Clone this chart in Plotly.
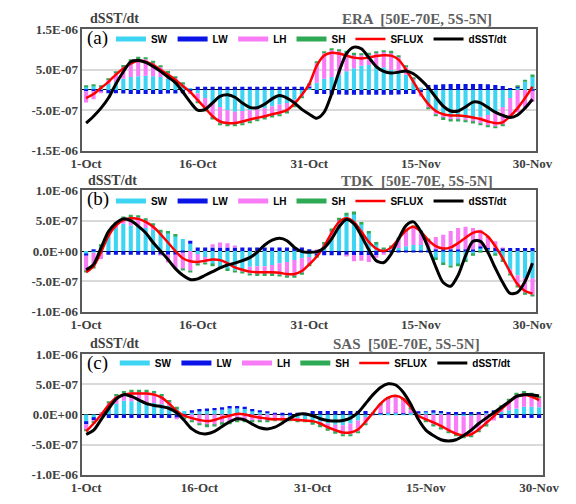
import plotly.graph_objects as go
import pandas as pd

# ---------------- categories ----------------
dates = [f"{d.day}-{d.strftime('%b')}" for d in pd.date_range("2000-10-01", "2000-11-30")]
tick_dates = ["1-Oct", "16-Oct", "31-Oct", "15-Nov", "30-Nov"]

# values in units of 1e-7
# ---------------- ERA ----------------
era_sw = [0.8, 1.0, 0.8, 1.5, 2.0, 2.8, 3.2, 3.4, 3.5, 3.4, 3.2, 2.8, 2.2, 1.4, 0.5,
          -0.8, -2.0, -3.2, -4.2, -5.0, -5.4, -5.2, -5.0, -4.8, -4.5, -4.0, -3.6, -3.2, -2.4, -1.2,
          0.5, 1.8, 2.8, 3.2, 3.8, 4.6, 5.4, 6.0, 6.2, 6.0, 5.6, 5.0, 4.4, 3.8, 2.4,
          0.6, -3.5, -5.0, -6.0, -6.5, -6.8, -7.0, -7.0, -6.6, -6.2, -5.4, -4.2, -2.0, 0.5, 2.0, 3.2]
era_lw = [-0.3, -0.3, -0.5, -0.8, -0.8, -0.9, -1.0, -1.0, -1.0, -1.0, -1.0, -0.9, -0.9, -0.8, -0.4,
          0.8, 0.8, 0.8, 0.8, 0.8, 0.8, 0.8, 0.8, 0.8, 0.8, 0.8, 0.8, 0.8, 0.8, 0.8,
          0.3, -1.0, -1.0, -1.1, -1.1, -1.2, -1.2, -1.2, -1.2, -1.2, -1.2, -1.2, -1.1, -1.0, -1.0,
          -0.5, 1.2, 1.3, 1.4, 1.5, 1.5, 1.5, 1.5, 1.5, 1.4, 1.2, 1.0, 0.5, 0.2, 0.0, -0.2]
era_lh = [-2.8, -2.0, -0.1, 0.9, 2.2, 3.0, 3.9, 4.4, 4.1, 3.4, 2.4, 1.5, 0.8, 0.1, -0.6,
          -2.2, -3.0, -3.8, -4.1, -3.7, -3.3, -3.1, -2.8, -2.6, -2.5, -2.5, -2.5, -2.3, -1.5, -0.5,
          0.5, 4.8, 6.3, 6.7, 5.9, 4.7, 3.4, 2.6, 2.6, 3.2, 3.8, 4.3, 3.8, 1.8, 0.3,
          -1.1, -0.9, -1.1, -1.0, -0.9, -0.6, -0.6, -0.9, -1.7, -2.6, -3.6, -4.4, -4.7, -5.5, -4.5, -2.8]
era_sh = [0.3, 0.3, 0.3, 0.4, 0.4, 0.4, 0.4, 0.4, 0.4, 0.4, 0.4, 0.4, 0.4, 0.3, 0.0,
          -0.3, -0.3, -0.3, -0.3, -0.3, -0.3, -0.3, -0.3, -0.3, -0.3, -0.3, -0.3, -0.3, -0.3, -0.3,
          0.2, 0.4, 0.4, 0.4, 0.4, 0.4, 0.4, 0.4, 0.4, 0.4, 0.4, 0.4, 0.4, 0.4, 0.3,
          0.0, -0.3, -0.4, -0.4, -0.4, -0.4, -0.4, -0.4, -0.4, -0.4, -0.4, -0.4, -0.3, 0.3, 0.5, 0.6]
era_sflux = [-2.0, -1.0, 0.5, 2.0, 3.8, 5.3, 6.5, 7.2, 7.0, 6.2, 5.0, 3.8, 2.5, 1.0, -0.5,
             -2.5, -4.5, -6.5, -7.8, -8.2, -8.2, -7.8, -7.3, -6.9, -6.5, -6.0, -5.6, -5.0, -3.4, -1.2,
             1.5, 6.0, 8.5, 9.2, 9.0, 8.5, 8.0, 7.8, 8.0, 8.4, 8.6, 8.5, 7.5, 5.0, 2.0,
             -1.0, -3.5, -5.2, -6.0, -6.3, -6.3, -6.5, -6.8, -7.2, -7.8, -8.2, -8.0, -6.5, -4.5, -2.0, 0.8]
era_dsst = [-8.2, -6.5, -4.5, -2.0, 1.5, 4.5, 7.0, 7.3, 6.8, 5.8, 4.6, 3.2, 1.8, -0.5, -3.0,
            -5.0, -4.8, -3.2, -1.6, -1.2, -1.8, -3.2, -4.3, -4.4, -3.5, -2.2, -1.4, -2.0, -3.2, -4.8,
            -6.0, -7.0, -5.5, -1.0, 4.5, 9.0, 10.6, 10.2, 8.0, 5.8, 4.6, 4.2, 4.4, 4.7, 4.0,
            2.5, 0.6, -1.8, -4.0, -5.2, -5.2, -4.2, -3.0, -3.2, -4.3, -5.5, -6.3, -6.8, -6.2, -4.5, -2.3]

# ---------------- TDK ----------------
tdk_sw = [-0.5, -0.3, 0.8, 2.5, 3.8, 4.5, 4.2, 4.2, 3.8, 3.5, 3.2, 3.0, 2.5, 2.0, 1.2,
          -0.5, -1.0, -2.2, -2.6, -3.0, -3.2, -3.0, -2.6, -2.5, -2.5, -2.3, -2.0, -1.8, -1.5, -1.2,
          -1.0, -0.5, 1.0, 2.5, 4.5, 6.0, 6.2, 4.5, 3.0, 1.2, 0.4, 0.3, 0.5, 0.8, 1.0,
          1.0, 0.5, -1.2, -2.0, -2.4, -2.2, -1.5, -0.5, 0.5, 0.3, -0.5, -1.5, -3.0, -4.0, -4.5, -4.5]
tdk_lw = [-0.3, 0.3, -0.3, -0.6, -0.6, -0.6, -0.6, -0.6, -0.6, -0.6, -0.6, -0.6, -0.6, -0.3, 0.5,
          0.6, 0.6, 0.6, 0.6, 0.6, 0.6, 0.6, 0.6, 0.6, 0.6, 0.6, 0.6, 0.6, 0.6, 0.6,
          0.3, -0.3, -0.7, -0.7, -0.7, -0.7, -0.7, -0.7, -0.7, -0.7, -0.3, -0.2, -0.2, -0.2, -0.2,
          -0.2, -0.2, 0.3, 0.3, 0.3, 0.3, 0.3, 0.3, 0.3, 0.2, 0.5, 0.5, 0.5, 0.5, 0.5, 0.5]
tdk_lh = [-2.5, -2.3, -1.0, 0.3, 0.7, 0.9, 1.5, 1.4, 1.3, 0.8, -0.1, -1.3, -2.2, -2.7, -3.2,
          -1.6, -0.9, 0.5, 0.8, 0.7, 0.2, -0.4, -1.1, -1.3, -1.3, -1.5, -1.9, -2.3, -2.6, -2.4,
          -1.2, 0.2, 0.2, 0.9, 0.7, -0.2, -1.0, -0.9, -1.1, -0.4, -0.3, 0.3, 1.5, 2.6, 3.0,
          2.2, 1.3, 2.0, 2.4, 3.0, 3.5, 3.7, 3.5, 2.7, 1.8, 1.1, 0.1, -0.7, -1.7, -2.4, -2.7]
tdk_sh = [-0.2, -0.2, 0.3, 0.3, 0.3, 0.3, 0.3, 0.3, 0.3, 0.3, 0.3, 0.3, 0.3, -0.2, -0.2,
          -0.3, -0.3, -0.3, -0.3, -0.3, -0.3, -0.3, -0.3, -0.3, -0.3, -0.3, -0.3, -0.3, -0.3, -0.3,
          -0.3, -0.3, 0.3, 0.3, 0.3, 0.3, 0.3, 0.3, 0.3, 0.3, 0.2, 0.2, 0.2, 0.2, 0.2,
          0.2, 0.2, -0.3, -0.3, -0.3, -0.3, -0.3, -0.3, -0.3, 0.1, -0.3, -0.3, -0.3, -0.3, -0.3, -0.3]
tdk_sflux = [-3.5, -2.5, -0.2, 2.5, 4.2, 5.1, 5.4, 5.3, 4.8, 4.0, 2.8, 1.4, 0.0, -1.2, -1.7,
             -1.8, -1.6, -1.4, -1.5, -2.0, -2.7, -3.1, -3.4, -3.5, -3.5, -3.5, -3.6, -3.8, -3.8, -3.3,
             -2.2, -0.9, 0.8, 3.0, 4.8, 5.4, 4.8, 3.2, 1.5, 0.4, 0.0, 0.6, 2.0, 3.4, 4.0,
             3.2, 1.8, 0.8, 0.4, 0.6, 1.3, 2.2, 3.0, 3.2, 2.4, 0.8, -1.2, -3.5, -5.5, -6.6, -7.0]
tdk_dsst = [-3.1, -2.2, 0.5, 3.2, 4.6, 5.3, 5.0, 4.1, 3.0, 1.4, 0.0, -1.4, -2.9, -4.0, -4.7,
            -4.6, -4.0, -3.4, -2.8, -2.3, -2.0, -1.6, -1.1, -0.2, 1.0, 1.8, 2.1, 1.7, 0.6, -0.1,
            -0.2, -0.1, 0.5, 2.0, 4.0, 5.2, 4.5, 2.5, 0.2, -1.6, -1.9, -0.5, 2.0, 4.2, 4.8,
            3.2, 0.5, -2.6, -5.2, -5.8, -4.0, -0.8, 1.6, 1.6, -0.2, -2.8, -5.2, -7.0, -6.8, -5.0, -2.0]

# ---------------- SAS ----------------
sas_sw = [-1.3, -0.6, 0.2, 1.0, 1.8, 2.3, 2.2, 2.1, 2.0, 1.9, 1.7, 1.4, 1.0, 0.6, 0.3,
          0.5, 0.6, 0.7, 0.8, 1.0, 1.0, 0.9, 0.6, 0.4, 0.2, 0.0, -0.2, -0.4, -0.6, -0.8,
          -1.0, -1.2, -1.5, -1.7, -1.8, -1.5, -1.0, -0.4, 0.0, 0.1, 0.2, 0.2, 0.1, 0.2, 0.3,
          0.4, 0.3, 0.2, 0.0, -0.2, -0.3, -0.2, 0.0, 0.2, 0.3, 0.4, 0.7, 1.0, 1.3, 1.3, 1.2]
sas_lw = [-0.3, -0.3, -0.3, -0.6, -0.6, -0.6, -0.6, -0.6, -0.6, -0.6, -0.6, -0.6, -0.6, -0.2, 0.4,
          0.4, 0.4, 0.4, 0.4, 0.4, 0.4, 0.4, 0.3, 0.3, 0.3, 0.3, 0.3, 0.3, 0.3, 0.3,
          0.6, 0.6, 0.6, 0.6, 0.6, 0.6, 0.6, 0.6, 0.1, 0.1, 0.1, 0.1, 0.1, 0.1, 0.1,
          0.1, 0.4, 0.4, 0.4, 0.4, 0.4, 0.4, 0.4, 0.4, 0.4, -0.6, -0.6, -0.6, -0.6, -0.6, -0.6]
sas_lh = [-1.0, -0.4, 0.1, 0.9, 1.3, 1.3, 1.6, 1.7, 1.8, 1.7, 1.4, 0.7, -0.1, -0.3, -1.0,
          -1.5, -1.8, -1.7, -1.4, -1.3, -1.0, -1.0, -1.1, -1.1, -1.1, -1.0, -0.8, -0.6, -0.5, -0.4,
          -0.4, -0.6, -0.9, -1.2, -1.5, -1.8, -1.8, -1.1, 0.0, 1.4, 2.3, 2.6, 2.2, 0.7, -0.6,
          -1.1, -1.8, -2.3, -2.8, -3.2, -3.4, -3.3, -2.7, -1.8, -1.0, 0.8, 1.6, 2.3, 2.3, 2.0, 1.5]
sas_sh = [-0.2, -0.2, 0.0, 0.3, 0.3, 0.3, 0.3, 0.3, 0.3, 0.3, 0.3, 0.3, 0.3, -0.3, -0.3,
          -0.3, -0.3, -0.3, -0.3, -0.3, -0.3, -0.3, -0.1, -0.1, -0.1, -0.1, -0.1, -0.1, -0.1, -0.1,
          -0.3, -0.3, -0.3, -0.3, -0.3, -0.3, -0.3, -0.3, 0.2, 0.2, 0.2, 0.2, 0.2, 0.2, 0.0,
          -0.2, -0.2, -0.2, -0.2, -0.2, -0.2, -0.2, -0.2, -0.2, 0.0, 0.3, 0.3, 0.3, 0.3, 0.3, 0.3]
sas_sflux = [-2.8, -1.5, 0.0, 1.6, 2.8, 3.3, 3.5, 3.5, 3.5, 3.3, 2.8, 1.8, 0.6, -0.2, -0.6,
             -0.9, -1.1, -0.9, -0.5, -0.2, 0.1, 0.0, -0.3, -0.5, -0.7, -0.8, -0.8, -0.8, -0.9, -1.0,
             -1.1, -1.5, -2.1, -2.6, -3.0, -3.0, -2.5, -1.2, 0.3, 1.8, 2.8, 3.1, 2.6, 1.2, -0.2,
             -0.8, -1.3, -1.9, -2.6, -3.2, -3.5, -3.3, -2.5, -1.4, -0.3, 0.9, 2.0, 3.0, 3.3, 3.0, 2.4]
sas_dsst = [-3.3, -2.6, -0.8, 1.0, 2.6, 3.3, 3.0, 2.4, 1.8, 1.5, 1.3, 1.0, 0.3, -1.0, -2.4,
            -3.1, -3.2, -2.8, -2.0, -1.2, -0.7, -0.9, -1.6, -2.2, -2.4, -2.1, -1.4, -0.6, 0.0, 0.1,
            -0.2, -0.7, -1.0, -1.1, -1.0, -0.6, 0.3, 1.8, 3.3, 4.5, 5.1, 4.9, 3.7, 1.7, -0.8,
            -2.6, -3.5, -4.2, -4.4, -4.2, -3.5, -2.6, -1.5, -0.6, 0.3, 1.2, 2.1, 3.0, 3.3, 3.3, 3.1]

panels = [
    ("ERA", "(a)", era_sw, era_lw, era_lh, era_sh, era_sflux, era_dsst),
    ("TDK", "(b)", tdk_sw, tdk_lw, tdk_lh, tdk_sh, tdk_sflux, tdk_dsst),
    ("SAS", "(c)", sas_sw, sas_lw, sas_lh, sas_sh, sas_sflux, sas_dsst),
]
ytick_a = [-15, -5, 5, 15]
ytext_a = ["-1.5E-06", "-5.0E-07", "5.0E-07", "1.5E-06"]
ytick_bc = [-10, -5, 0, 5, 10]
ytext_bc = ["-1.0E-06", "-5.0E-07", "0.0E+00", "5.0E-07", "1.0E-06"]

# ---------------- styling ----------------
W, H = 576, 504
def px(x): return x / W
def py(y): return 1 - y / H

C_SW, C_LW, C_LH, C_SH = "#3DD5F3", "#0A14E6", "#F77CF5", "#2EAA55"
C_SF, C_DS = "#FF0000", "#000000"
SERIF = "Liberation Serif"
SANS = "Liberation Sans"
GRAY = "#404040"

boxes = [  # left, right, top, bottom in pixels
    (74, 551, 23, 148),
    (74, 551, 189, 314),
    (74, 558, 358, 482),
]
legend_pos = [(104, 33), (104, 200), (108, 367)]
title_pos = [(426, 12), (426, 179), (415, 347)]
dsst_pos = [(80, 12), (78, 179), (80, 347)]

fig = go.Figure()
annotations = []
layout = {}
for i, (name, tag, sw, lw, lh, sh, sf, ds) in enumerate(panels):
    n = "" if i == 0 else str(i + 1)
    xa, ya = "x" + n, "y" + n
    lg = "legend" + n
    for comp, col, lab in [(sw, C_SW, "SW"), (lw, C_LW, "LW"), (lh, C_LH, "LH"), (sh, C_SH, "SH")]:
        fig.add_trace(go.Bar(x=dates, y=comp, marker=dict(color=col, line=dict(width=0)),
                             xaxis=xa, yaxis=ya, showlegend=False, name=lab))
    for col, lab in [(C_SW, "SW"), (C_LW, "LW"), (C_LH, "LH"), (C_SH, "SH")]:
        fig.add_trace(go.Scatter(x=[None], y=[None], mode="lines", name=lab,
                                 line=dict(color=col, width=5), xaxis=xa, yaxis=ya,
                                 legend=lg, showlegend=True))
    fig.add_trace(go.Scatter(x=dates, y=sf, mode="lines", name="SFLUX",
                             line=dict(color=C_SF, width=2.5, shape="spline", smoothing=0.8),
                             xaxis=xa, yaxis=ya, legend=lg))
    fig.add_trace(go.Scatter(x=dates, y=ds, mode="lines", name="dSST/dt",
                             line=dict(color=C_DS, width=3, shape="spline", smoothing=0.8),
                             xaxis=xa, yaxis=ya, legend=lg))

    l, r, t, b = boxes[i]
    if i == 0:
        yr, tv, tt = [-15, 15], ytick_a, ytext_a
    else:
        yr, tv, tt = [-10, 10], ytick_bc, ytext_bc
    layout["xaxis" + n] = dict(
        domain=[px(l), px(r)], anchor=ya, type="category", range=[-0.5, 60.5],
        tickmode="array", tickvals=tick_dates, ticktext=tick_dates, ticks="",
        tickfont=dict(family=SERIF, size=13, color=GRAY, weight="bold"),
        showgrid=False, showline=True, mirror=True, linecolor="#595959", linewidth=1.5,
    )
    layout["yaxis" + n] = dict(
        domain=[py(b), py(t)], anchor=xa, range=yr, tickmode="array",
        tickvals=tv, ticktext=tt, ticks="",
        tickfont=dict(family=SERIF, size=13, color=GRAY, weight="bold"),
        showgrid=True, gridcolor="#D9D9D9", gridwidth=1.5,
        zeroline=True, zerolinecolor="#000000", zerolinewidth=1,
        showline=True, mirror=True, linecolor="#595959", linewidth=1.5,
    )
    lx, ly = legend_pos[i]
    layout[lg] = dict(
        orientation="h", x=px(lx), y=py(ly), xanchor="left", yanchor="middle",
        bgcolor="rgba(0,0,0,0)", borderwidth=0, itemwidth=30,
        font=dict(family=SANS, size=10, color="#000000", weight="bold"),
        tracegroupgap=0, itemclick=False,
    )
    tx, ty = title_pos[i]
    annotations.append(dict(text=f"{name}  [50E-70E, 5S-5N]", x=px(tx), y=py(ty),
                            xref="paper", yref="paper", xanchor="center", yanchor="middle",
                            showarrow=False,
                            font=dict(family=SERIF, size=15, color="#5f5f5f", weight="bold")))
    dx, dy = dsst_pos[i]
    annotations.append(dict(text="dSST/dt", x=px(dx), y=py(dy), xref="paper", yref="paper",
                            xanchor="left", yanchor="middle", showarrow=False,
                            font=dict(family=SERIF, size=14, color=GRAY, weight="bold")))
    annotations.append(dict(text=tag, x=px(l + 3), y=py(t + 9), xref="paper", yref="paper",
                            xanchor="left", yanchor="middle", showarrow=False,
                            font=dict(family=SERIF, size=19, color="#000000")))

fig.update_layout(
    width=W, height=H, margin=dict(l=0, r=0, t=0, b=0),
    paper_bgcolor="white", plot_bgcolor="white",
    barmode="relative", bargap=0.45,
    annotations=annotations, **layout,
)
fig.write_html("out.html")
